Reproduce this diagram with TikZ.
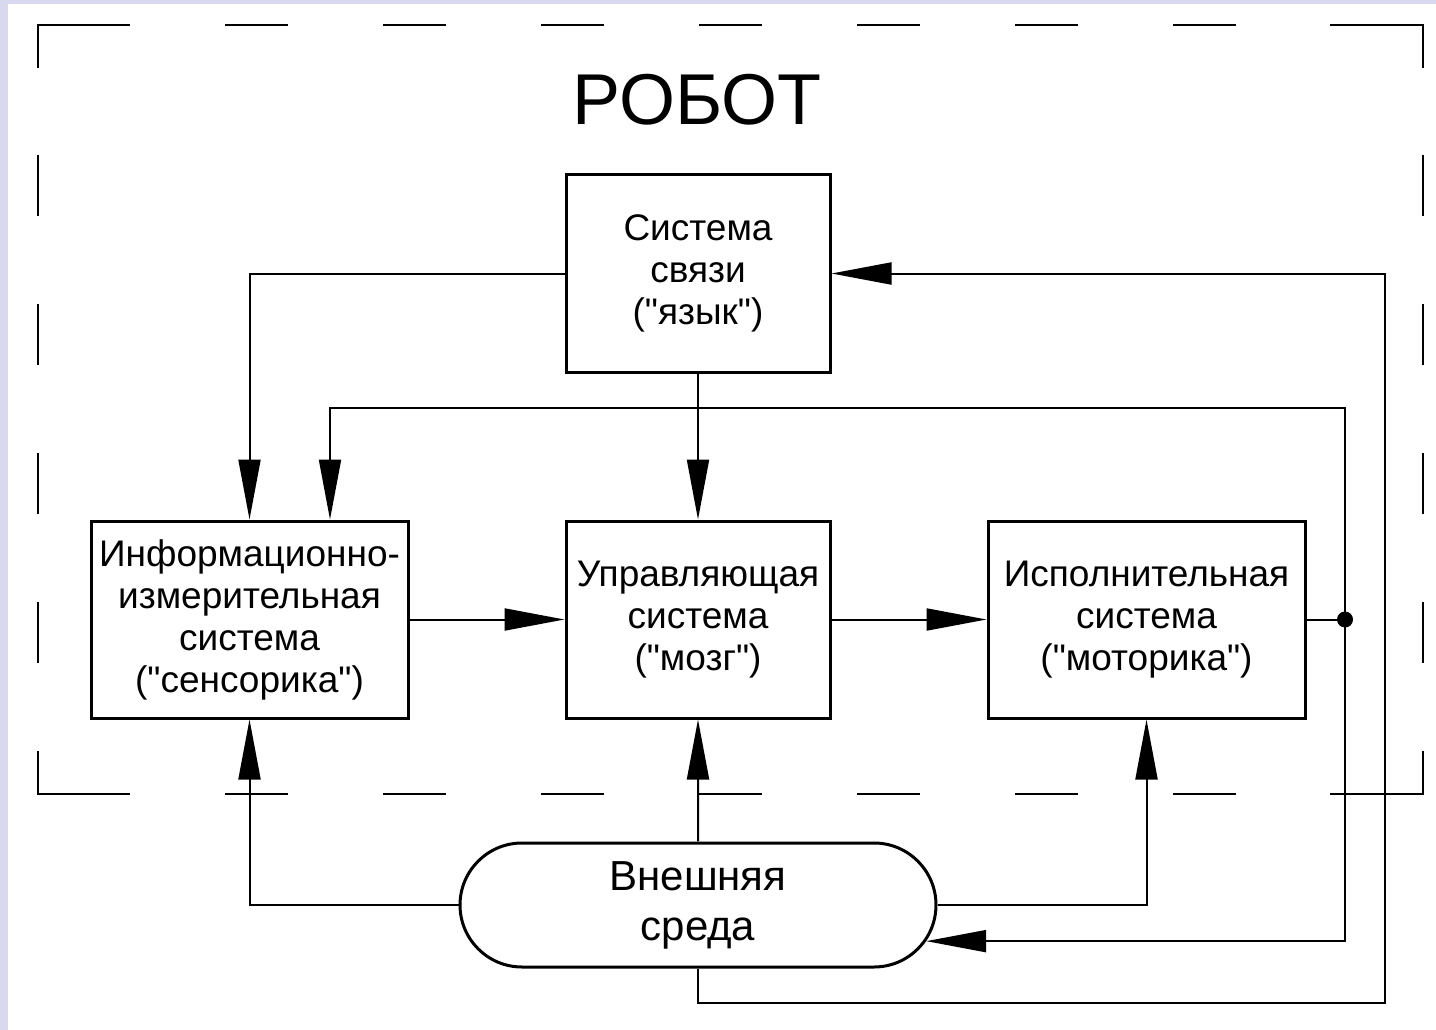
\documentclass[tikz,border=0pt]{standalone}
\usepackage{fontspec}
\setmainfont{Liberation Sans}[Ligatures=TeXOff]
\usetikzlibrary{arrows.meta,shapes.misc}
\definecolor{lavender}{RGB}{216,216,238}

\begin{document}
\begin{tikzpicture}[x=1pt,y=-1pt,
        block/.style={draw,line width=3pt,align=center,inner sep=0pt,
            minimum width=264pt,minimum height=197pt,font=\fontsize{37}{42}\selectfont},
        wideblock/.style={block,minimum width=317pt},
        pill/.style={draw,line width=3pt,rounded rectangle,align=center,inner sep=0pt,
            minimum width=476pt,minimum height=124pt,font=\fontsize{42}{50}\selectfont},
        frame/.style={line width=2.5pt},
        link/.style={line width=2pt},
        >={Triangle[length=60pt,width=22pt]}]
        \useasboundingbox (0,0) rectangle (1436,1030);
        \fill[lavender] (0,0) rectangle (1436,1030);
        \fill[white] (8,4) rectangle (1436,1030);

        %% dashed border of the robot
        \draw[frame] (38,68) |- (130,25);
        \draw[frame] (1330,25) -| (1423,68);
        \draw[frame] (38,751) |- (130,794);
        \draw[frame] (1330,794) -| (1423,751);
        \foreach \x in {225,383,...,1173} {
            \draw[frame] (\x,25) -- ++(63,0);
            \draw[frame] (\x,794) -- ++(63,0);
        }
        \foreach \y in {155,304,...,602} {
            \draw[frame] (38,\y) -- ++(0,61);
            \draw[frame] (1423,\y) -- ++(0,61);
        }

        \node (robot) [anchor=base,font=\fontsize{72}{80}\selectfont] at (697,125) {РОБОТ};
        \node (sv) [block] at (698,273.5) {Система\\связи\\("язык")};
        \node (info) [wideblock] at (249.5,619.5) {Информационно-\\измерительная\\система\\("сенсорика")};
        \node (ctrl) [block] at (698,619.5) {Управляющая\\система\\("мозг")};
        \node (exec) [wideblock] at (1146.5,619.5) {Исполнительная\\система\\("моторика")};
        \node (env) [pill] at (698,905) {Внешняя\\среда};

        \coordinate (dot) at (1345,619.5);
        \coordinate (upper) at (330,408);
        \coordinate (lower) at (1385,1003);

        \draw[link,->] (sv.west) -| (info.north);
        \draw[link,->] (dot) |- (upper) -- (upper |- info.north);
        \draw[link,->] (sv) -- (ctrl);
        \draw[link,->] (info) -- (ctrl);
        \draw[link,->] (ctrl) -- (exec);
        \draw[link] (exec) -- (dot);
        \fill (dot) circle (8pt);
        \draw[link,->] (dot) |- (env.-9);
        \draw[link,->] (env.west) -| (info.south);
        \draw[link,->] (env) -- (ctrl);
        \draw[link,->] (env.east) -| (exec.south);
        \draw[link,->] (env.south) |- (lower) |- (sv.east);
    \end{tikzpicture}
\end{document}
